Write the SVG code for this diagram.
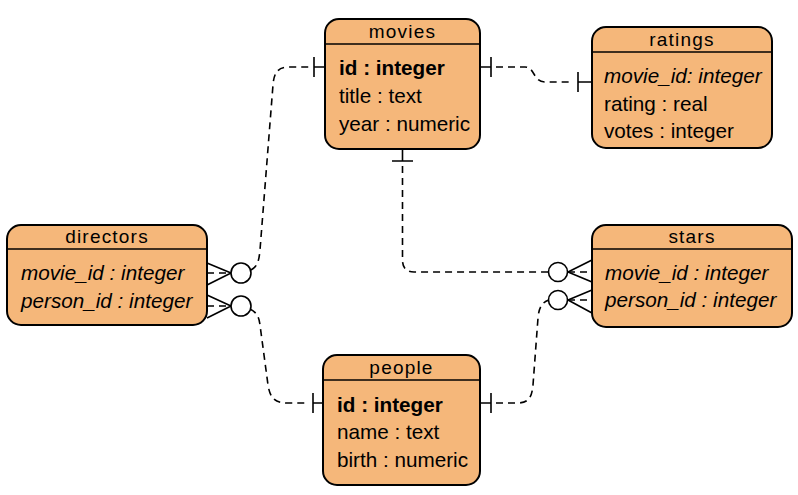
<svg xmlns="http://www.w3.org/2000/svg" width="798" height="495" viewBox="0 0 798 495">
<style>
.box{fill:#F5B77A;stroke:#000;stroke-width:2}
.div{stroke:#000;stroke-width:1.5}
.hdr{font-family:"Liberation Sans",Arial,sans-serif;font-size:19px;letter-spacing:1.2px;text-anchor:middle;fill:#000}
.row{font-family:"Liberation Sans",Arial,sans-serif;font-size:20.7px;fill:#000}
.b{font-weight:bold}
.i{font-style:italic}
.solid{fill:none;stroke:#000;stroke-width:1.6}
.dash{fill:none;stroke:#000;stroke-width:1.6;stroke-dasharray:7,5}
.circ{fill:#fff;stroke:#000;stroke-width:1.6}
</style>
<rect width="798" height="495" fill="#fff"/>
<g id="connectors">
  <!-- movies - ratings -->
  <path class="solid" d="M480,67 H491 M491,57 V77 M578,72 V92 M578,82 H592"/>
  <path class="dash" d="M496,67 H525 C535,67 533,82 545,82 H573"/>
  <!-- movies - stars -->
  <path class="solid" d="M402.5,149 V161 M392,161 H413"/>
  <path class="dash" d="M402.5,166 V260 Q402.5,272 414,272 H548"/>
  <!-- movies - directors -->
  <path class="solid" d="M314,57 V77 M314,67 H325"/>
  <path class="dash" d="M251,270 C258,266 259,260 260,250 L273,85 C274,72 278,67 290,67 H309"/>
  <!-- directors - people -->
  <path class="solid" d="M313,393 V413 M313,403 H323"/>
  <path class="dash" d="M250,309 C256,312 259,316 260,325 L268,385 C270,398 275,403 287,403 H308"/>
  <!-- people - stars -->
  <path class="solid" d="M480,403 H491 M491,393 V413"/>
  <path class="dash" d="M496,403 H518 C530,403 532,395 533,385 L538,318 C539,306 543,302 549,300"/>
  <!-- directors crow's feet -->
  <path class="solid" d="M207,263 L231,273 M207,285 L231,273 M207,295 L231,306 M207,318 L231,306"/>
  <path class="dash" d="M207,273 H231 M207,306 H231"/>
  <circle class="circ" cx="241" cy="273" r="10"/>
  <circle class="circ" cx="241" cy="306" r="10"/>
  <!-- stars crow's feet -->
  <path class="solid" d="M592,260 L568,272 M592,282 L568,272 M592,290 L568,300 M592,313 L568,300"/>
  <path class="dash" d="M568,272 H592 M568,300 H592"/>
  <circle class="circ" cx="558" cy="272" r="9.5"/>
  <circle class="circ" cx="558" cy="300" r="9.5"/>
</g>
<g id="movies">
  <rect class="box" x="325" y="19" width="155" height="130" rx="14"/>
  <line class="div" x1="325" y1="44" x2="480" y2="44"/>
  <text class="hdr" x="402.5" y="38">movies</text>
  <text class="row b" x="339" y="75">id : integer</text>
  <text class="row" x="339" y="103">title : text</text>
  <text class="row" x="339" y="131">year : numeric</text>
</g>
<g id="ratings">
  <rect class="box" x="592" y="27" width="180" height="121" rx="14"/>
  <line class="div" x1="592" y1="52" x2="772" y2="52"/>
  <text class="hdr" x="682" y="46">ratings</text>
  <text class="row i" x="604" y="83">movie_id: integer</text>
  <text class="row" x="604" y="111">rating : real</text>
  <text class="row" x="604" y="138">votes : integer</text>
</g>
<g id="directors">
  <rect class="box" x="7" y="225" width="200" height="100" rx="14"/>
  <line class="div" x1="7" y1="249" x2="207" y2="249"/>
  <text class="hdr" x="107" y="243">directors</text>
  <text class="row i" x="21" y="280">movie_id : integer</text>
  <text class="row i" x="21" y="308">person_id : integer</text>
</g>
<g id="stars">
  <rect class="box" x="592" y="225" width="200" height="102" rx="14"/>
  <line class="div" x1="592" y1="249" x2="792" y2="249"/>
  <text class="hdr" x="692" y="243">stars</text>
  <text class="row i" x="605" y="280">movie_id : integer</text>
  <text class="row i" x="605" y="307">person_id : integer</text>
</g>
<g id="people">
  <rect class="box" x="323" y="355" width="157" height="130" rx="14"/>
  <line class="div" x1="323" y1="380" x2="480" y2="380"/>
  <text class="hdr" x="401.5" y="374">people</text>
  <text class="row b" x="337" y="412">id : integer</text>
  <text class="row" x="337" y="439">name : text</text>
  <text class="row" x="337" y="467">birth : numeric</text>
</g>
</svg>
